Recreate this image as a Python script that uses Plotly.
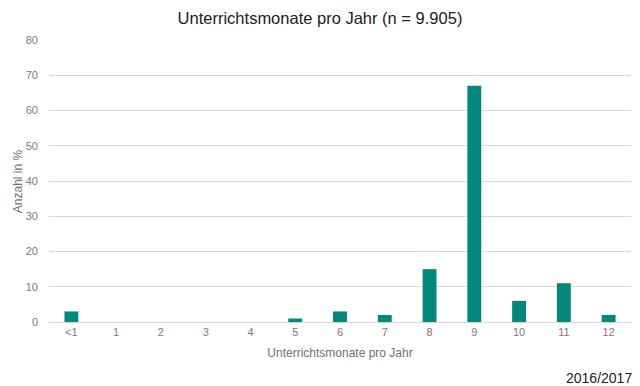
import plotly.graph_objects as go

categories = ["<1", "1", "2", "3", "4", "5", "6", "7", "8", "9", "10", "11", "12"]
values = [3, 0, 0, 0, 0, 1, 3, 2, 15, 67, 6, 11, 2]
y_ticks = [0, 10, 20, 30, 40, 50, 60, 70, 80]

fig = go.Figure(go.Bar(x=categories, y=values, marker_color="#00897B", marker_line_width=0))

fig.update_layout(
    width=640, height=386,
    margin=dict(l=41, r=17, t=32, b=72),
    paper_bgcolor="white", plot_bgcolor="white",
    bargap=0.69,
    font=dict(family="Liberation Sans, Arial, sans-serif", color="#595959"),
    title=dict(text="Unterrichtsmonate pro Jahr (n = 9.905)", x=0.4875, xanchor="center",
               y=0.974, yanchor="middle", font=dict(size=16.5, color="#222222")),
    showlegend=False,
    annotations=[
        dict(text="2016/2017", xref="paper", yref="paper", x=1.006, y=-0.199,
             xanchor="right", yanchor="middle", showarrow=False,
             font=dict(size=14, color="#222222")),
        dict(text="Anzahl in %", xref="paper", yref="paper", x=-0.053, y=0.5,
             xanchor="center", yanchor="middle", textangle=-90, showarrow=False,
             font=dict(size=12, color="#707070")),
    ],
)
fig.update_xaxes(type="category", showgrid=False, showline=True, linecolor="#d9d9d9",
                 ticks="", tickfont=dict(size=11, color="#7a7a7a"), automargin=False,
                 title=dict(text="Unterrichtsmonate pro Jahr", font=dict(size=12, color="#707070"), standoff=11))
fig.update_yaxes(range=[0, 80], tickvals=y_ticks, showgrid=True, gridcolor="#d9d9d9",
                 zeroline=False, ticks="", tickfont=dict(size=11, color="#7a7a7a"),
                 ticklabelstandoff=10, automargin=False)

fig.write_html("out.html")
